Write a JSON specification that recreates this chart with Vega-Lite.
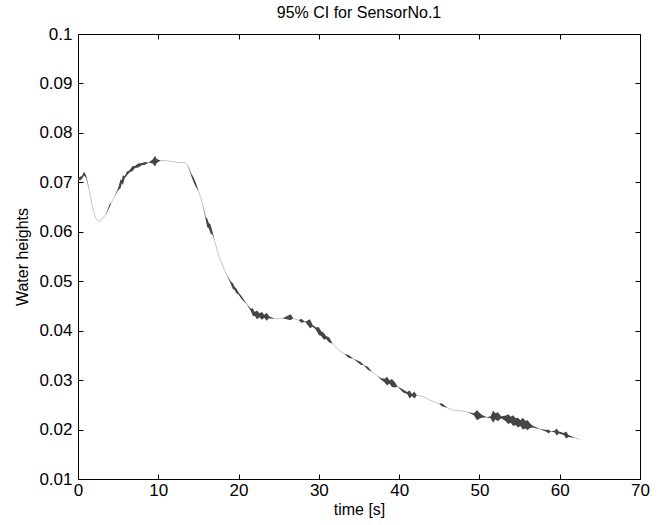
{
  "$schema": "https://vega.github.io/schema/vega-lite/v6.json",
  "width": 562,
  "height": 445,
  "autosize": "none",
  "padding": {"left": 78, "top": 34, "right": 20, "bottom": 46},
  "background": "white",
  "config": {
    "font": "Liberation Sans",
    "view": {"stroke": "black", "strokeWidth": 1},
    "axis": {
      "domain": false,
      "grid": false,
      "ticks": true,
      "tickColor": "black",
      "tickSize": 5,
      "offset": -5,
      "labelFlush": false,
      "labelOverlap": false,
      "labelColor": "black",
      "labelFont": "Liberation Sans",
      "labelFontSize": 17,
      "titleColor": "black",
      "titleFont": "Liberation Sans",
      "titleFontSize": 16,
      "titleFontWeight": "normal"
    }
  },
  "title": {"text": "95% CI for SensorNo.1", "font": "Liberation Sans", "fontSize": 16, "fontWeight": "normal", "color": "black", "offset": 4},
  "data": {"values": [
    {"t":0.0,"m":0.0706,"lo":0.0704,"hi":0.0708},
    {"t":0.3,"m":0.0708,"lo":0.0704,"hi":0.0712},
    {"t":0.5,"m":0.0710,"lo":0.0707,"hi":0.0713},
    {"t":0.75,"m":0.0718,"lo":0.0714,"hi":0.0722},
    {"t":1.0,"m":0.0712,"lo":0.0710,"hi":0.0714},
    {"t":1.4,"m":0.0685,"lo":0.0685,"hi":0.0685},
    {"t":1.8,"m":0.0650,"lo":0.0650,"hi":0.0650},
    {"t":2.2,"m":0.0627,"lo":0.0627,"hi":0.0627},
    {"t":2.6,"m":0.0621,"lo":0.0621,"hi":0.0621},
    {"t":3.0,"m":0.0625,"lo":0.0625,"hi":0.0625},
    {"t":3.5,"m":0.0636,"lo":0.0636,"hi":0.0636},
    {"t":4.0,"m":0.0655,"lo":0.0652,"hi":0.0658},
    {"t":4.1,"m":0.0657,"lo":0.0657,"hi":0.0657},
    {"t":4.6,"m":0.0673,"lo":0.0673,"hi":0.0673},
    {"t":5.0,"m":0.0686,"lo":0.0684,"hi":0.0688},
    {"t":5.3,"m":0.0697,"lo":0.0688,"hi":0.0706},
    {"t":5.45,"m":0.0701,"lo":0.0698,"hi":0.0704},
    {"t":5.6,"m":0.0705,"lo":0.0695,"hi":0.0715},
    {"t":5.8,"m":0.0710,"lo":0.0708,"hi":0.0712},
    {"t":6.1,"m":0.0718,"lo":0.0714,"hi":0.0722},
    {"t":6.4,"m":0.0722,"lo":0.0720,"hi":0.0724},
    {"t":6.8,"m":0.0728,"lo":0.0723,"hi":0.0733},
    {"t":7.1,"m":0.0731,"lo":0.0729,"hi":0.0733},
    {"t":7.5,"m":0.0734,"lo":0.0730,"hi":0.0738},
    {"t":8.0,"m":0.0737,"lo":0.0735,"hi":0.0739},
    {"t":8.3,"m":0.0738,"lo":0.0735,"hi":0.0741},
    {"t":8.8,"m":0.0740,"lo":0.0740,"hi":0.0740},
    {"t":9.3,"m":0.0742,"lo":0.0738,"hi":0.0746},
    {"t":9.6,"m":0.0743,"lo":0.0732,"hi":0.0754},
    {"t":9.8,"m":0.0743,"lo":0.0739,"hi":0.0747},
    {"t":10.3,"m":0.0744,"lo":0.0744,"hi":0.0744},
    {"t":11.0,"m":0.0744,"lo":0.0744,"hi":0.0744},
    {"t":11.7,"m":0.0742,"lo":0.0742,"hi":0.0742},
    {"t":12.5,"m":0.0740,"lo":0.0740,"hi":0.0740},
    {"t":13.3,"m":0.0740,"lo":0.0740,"hi":0.0740},
    {"t":13.7,"m":0.0734,"lo":0.0734,"hi":0.0734},
    {"t":14.1,"m":0.0716,"lo":0.0714,"hi":0.0718},
    {"t":14.4,"m":0.0705,"lo":0.0700,"hi":0.0710},
    {"t":14.7,"m":0.0694,"lo":0.0690,"hi":0.0698},
    {"t":15.0,"m":0.0683,"lo":0.0683,"hi":0.0683},
    {"t":15.5,"m":0.0658,"lo":0.0658,"hi":0.0658},
    {"t":15.9,"m":0.0628,"lo":0.0626,"hi":0.0630},
    {"t":16.1,"m":0.0618,"lo":0.0609,"hi":0.0627},
    {"t":16.3,"m":0.0612,"lo":0.0607,"hi":0.0617},
    {"t":16.5,"m":0.0606,"lo":0.0597,"hi":0.0615},
    {"t":16.8,"m":0.0595,"lo":0.0593,"hi":0.0597},
    {"t":17.0,"m":0.0582,"lo":0.0582,"hi":0.0582},
    {"t":17.6,"m":0.0548,"lo":0.0548,"hi":0.0548},
    {"t":18.5,"m":0.0513,"lo":0.0513,"hi":0.0513},
    {"t":19.0,"m":0.0498,"lo":0.0496,"hi":0.0500},
    {"t":19.3,"m":0.0490,"lo":0.0484,"hi":0.0496},
    {"t":19.5,"m":0.0486,"lo":0.0483,"hi":0.0489},
    {"t":19.7,"m":0.0481,"lo":0.0476,"hi":0.0486},
    {"t":20.0,"m":0.0475,"lo":0.0473,"hi":0.0477},
    {"t":20.4,"m":0.0466,"lo":0.0463,"hi":0.0469},
    {"t":21.0,"m":0.0454,"lo":0.0454,"hi":0.0454},
    {"t":21.5,"m":0.0443,"lo":0.0441,"hi":0.0445},
    {"t":21.8,"m":0.0437,"lo":0.0429,"hi":0.0445},
    {"t":22.0,"m":0.0434,"lo":0.0430,"hi":0.0438},
    {"t":22.3,"m":0.0432,"lo":0.0423,"hi":0.0441},
    {"t":22.6,"m":0.0431,"lo":0.0427,"hi":0.0435},
    {"t":22.9,"m":0.0430,"lo":0.0422,"hi":0.0438},
    {"t":23.2,"m":0.0429,"lo":0.0426,"hi":0.0432},
    {"t":23.5,"m":0.0428,"lo":0.0420,"hi":0.0436},
    {"t":23.8,"m":0.0427,"lo":0.0425,"hi":0.0429},
    {"t":24.5,"m":0.0424,"lo":0.0424,"hi":0.0424},
    {"t":25.5,"m":0.0425,"lo":0.0425,"hi":0.0425},
    {"t":26.5,"m":0.0427,"lo":0.0421,"hi":0.0433},
    {"t":26.8,"m":0.0425,"lo":0.0425,"hi":0.0425},
    {"t":27.5,"m":0.0421,"lo":0.0421,"hi":0.0421},
    {"t":27.8,"m":0.0420,"lo":0.0416,"hi":0.0424},
    {"t":28.3,"m":0.0418,"lo":0.0418,"hi":0.0418},
    {"t":28.9,"m":0.0414,"lo":0.0405,"hi":0.0423},
    {"t":29.2,"m":0.0410,"lo":0.0408,"hi":0.0412},
    {"t":29.6,"m":0.0405,"lo":0.0403,"hi":0.0407},
    {"t":30.0,"m":0.0399,"lo":0.0391,"hi":0.0407},
    {"t":30.3,"m":0.0394,"lo":0.0389,"hi":0.0399},
    {"t":30.6,"m":0.0389,"lo":0.0382,"hi":0.0396},
    {"t":30.9,"m":0.0386,"lo":0.0383,"hi":0.0389},
    {"t":31.3,"m":0.0381,"lo":0.0376,"hi":0.0386},
    {"t":31.7,"m":0.0374,"lo":0.0374,"hi":0.0374},
    {"t":32.5,"m":0.0360,"lo":0.0360,"hi":0.0360},
    {"t":33.2,"m":0.0353,"lo":0.0353,"hi":0.0353},
    {"t":33.7,"m":0.0348,"lo":0.0345,"hi":0.0351},
    {"t":34.3,"m":0.0343,"lo":0.0343,"hi":0.0343},
    {"t":35.2,"m":0.0334,"lo":0.0331,"hi":0.0337},
    {"t":35.6,"m":0.0330,"lo":0.0330,"hi":0.0330},
    {"t":36.1,"m":0.0324,"lo":0.0321,"hi":0.0327},
    {"t":36.6,"m":0.0317,"lo":0.0317,"hi":0.0317},
    {"t":37.3,"m":0.0308,"lo":0.0308,"hi":0.0308},
    {"t":37.8,"m":0.0302,"lo":0.0300,"hi":0.0304},
    {"t":38.2,"m":0.0299,"lo":0.0295,"hi":0.0303},
    {"t":38.5,"m":0.0298,"lo":0.0289,"hi":0.0307},
    {"t":38.8,"m":0.0296,"lo":0.0293,"hi":0.0299},
    {"t":39.1,"m":0.0294,"lo":0.0286,"hi":0.0302},
    {"t":39.5,"m":0.0290,"lo":0.0285,"hi":0.0295},
    {"t":39.8,"m":0.0287,"lo":0.0287,"hi":0.0287},
    {"t":40.5,"m":0.0278,"lo":0.0275,"hi":0.0281},
    {"t":41.0,"m":0.0274,"lo":0.0272,"hi":0.0276},
    {"t":41.3,"m":0.0271,"lo":0.0263,"hi":0.0279},
    {"t":41.6,"m":0.0270,"lo":0.0268,"hi":0.0272},
    {"t":41.9,"m":0.0270,"lo":0.0263,"hi":0.0277},
    {"t":42.2,"m":0.0269,"lo":0.0269,"hi":0.0269},
    {"t":43.0,"m":0.0267,"lo":0.0267,"hi":0.0267},
    {"t":43.9,"m":0.0259,"lo":0.0259,"hi":0.0259},
    {"t":45.0,"m":0.0252,"lo":0.0252,"hi":0.0252},
    {"t":45.3,"m":0.0250,"lo":0.0247,"hi":0.0253},
    {"t":46.0,"m":0.0244,"lo":0.0244,"hi":0.0244},
    {"t":46.8,"m":0.0239,"lo":0.0239,"hi":0.0239},
    {"t":47.8,"m":0.0238,"lo":0.0238,"hi":0.0238},
    {"t":48.6,"m":0.0235,"lo":0.0235,"hi":0.0235},
    {"t":49.3,"m":0.0231,"lo":0.0229,"hi":0.0233},
    {"t":49.7,"m":0.0229,"lo":0.0219,"hi":0.0239},
    {"t":50.0,"m":0.0228,"lo":0.0222,"hi":0.0234},
    {"t":50.3,"m":0.0227,"lo":0.0224,"hi":0.0230},
    {"t":50.9,"m":0.0225,"lo":0.0225,"hi":0.0225},
    {"t":51.4,"m":0.0225,"lo":0.0223,"hi":0.0227},
    {"t":51.7,"m":0.0226,"lo":0.0214,"hi":0.0238},
    {"t":52.0,"m":0.0227,"lo":0.0221,"hi":0.0233},
    {"t":52.3,"m":0.0226,"lo":0.0217,"hi":0.0235},
    {"t":52.7,"m":0.0225,"lo":0.0223,"hi":0.0227},
    {"t":53.2,"m":0.0223,"lo":0.0218,"hi":0.0228},
    {"t":53.6,"m":0.0221,"lo":0.0211,"hi":0.0231},
    {"t":53.9,"m":0.0220,"lo":0.0214,"hi":0.0226},
    {"t":54.2,"m":0.0218,"lo":0.0207,"hi":0.0229},
    {"t":54.5,"m":0.0216,"lo":0.0209,"hi":0.0223},
    {"t":54.8,"m":0.0214,"lo":0.0204,"hi":0.0224},
    {"t":55.1,"m":0.0213,"lo":0.0207,"hi":0.0219},
    {"t":55.4,"m":0.0212,"lo":0.0200,"hi":0.0224},
    {"t":55.7,"m":0.0210,"lo":0.0202,"hi":0.0218},
    {"t":56.0,"m":0.0209,"lo":0.0199,"hi":0.0219},
    {"t":56.3,"m":0.0208,"lo":0.0203,"hi":0.0213},
    {"t":56.6,"m":0.0206,"lo":0.0204,"hi":0.0208},
    {"t":57.5,"m":0.0201,"lo":0.0201,"hi":0.0201},
    {"t":58.4,"m":0.0197,"lo":0.0195,"hi":0.0199},
    {"t":58.6,"m":0.0196,"lo":0.0192,"hi":0.0200},
    {"t":58.9,"m":0.0196,"lo":0.0196,"hi":0.0196},
    {"t":59.4,"m":0.0196,"lo":0.0194,"hi":0.0198},
    {"t":59.6,"m":0.0195,"lo":0.0188,"hi":0.0202},
    {"t":59.9,"m":0.0194,"lo":0.0192,"hi":0.0196},
    {"t":60.5,"m":0.0191,"lo":0.0189,"hi":0.0193},
    {"t":60.8,"m":0.0189,"lo":0.0182,"hi":0.0196},
    {"t":61.1,"m":0.0187,"lo":0.0185,"hi":0.0189},
    {"t":61.9,"m":0.0183,"lo":0.0183,"hi":0.0183},
    {"t":62.5,"m":0.0180,"lo":0.0180,"hi":0.0180}
  ]},
  "layer": [
    {
      "mark": {"type": "line", "color": "#b8b8b8", "strokeWidth": 0.8},
      "encoding": {
        "x": {"field": "t", "type": "quantitative", "scale": {"domain": [0, 70], "nice": false, "zero": false},
              "axis": {"orient": "bottom", "values": [0,10,20,30,40,50,60,70], "title": "time [s]", "labelPadding": 3, "titlePadding": 3}},
        "y": {"field": "m", "type": "quantitative", "scale": {"domain": [0.01, 0.1], "nice": false, "zero": false},
              "axis": {"orient": "left", "values": [0.01,0.02,0.03,0.04,0.05,0.06,0.07,0.08,0.09,0.1], "format": ".2~f", "title": "Water heights", "labelPadding": 6, "titlePadding": 8}}
      }
    },
    {
      "mark": {"type": "area", "color": "#454545", "interpolate": "linear"},
      "encoding": {
        "x": {"field": "t", "type": "quantitative",
              "axis": {"orient": "top", "values": [0,10,20,30,40,50,60,70], "labels": false, "title": null}},
        "y": {"field": "lo", "type": "quantitative",
              "axis": {"orient": "right", "values": [0.01,0.02,0.03,0.04,0.05,0.06,0.07,0.08,0.09,0.1], "labels": false, "title": null}},
        "y2": {"field": "hi"}
      }
    }
  ],
  "resolve": {"axis": {"x": "independent", "y": "independent"}}
}
